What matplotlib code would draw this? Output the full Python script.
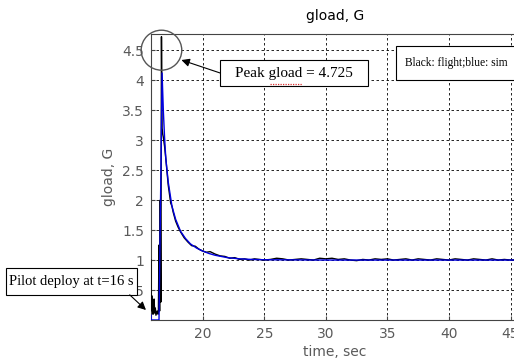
import matplotlib
matplotlib.use("Agg")
import matplotlib.pyplot as plt
from matplotlib.patches import Ellipse, Rectangle

# ---- data ----
sim_t = [15.8, 15.81, 16.45, 16.5, 16.6, 16.7, 16.8, 16.9, 17.0, 17.2, 17.5, 17.8,
         18.2, 18.6, 19.0, 19.5, 20.0, 20.5, 21.0, 21.5, 22.0, 22.5, 23.0, 24.0,
         25.0, 30.0, 35.0, 40.0, 45.7]
sim_g = [0.08, 0.0, 0.0, 0.8, 2.4, 4.12, 3.5, 3.05, 2.7, 2.3, 1.9, 1.68,
         1.48, 1.36, 1.27, 1.2, 1.15, 1.11, 1.08, 1.06, 1.04, 1.03, 1.02, 1.01,
         1.005, 1.0, 1.0, 1.0, 1.0]

flight_t = [15.8, 15.81, 15.9, 15.93, 15.98, 16.0, 16.05, 16.1, 16.15, 16.2, 16.3,
            16.35, 16.4, 16.45, 16.5, 16.55, 16.6, 16.65, 16.7, 16.75, 16.8, 16.9,
            17.0, 17.2, 17.4, 17.5, 17.6, 17.8, 18.0, 18.2, 18.5, 18.8, 19.1, 19.4,
            19.7, 20.0, 20.3, 20.6, 21.0, 21.4, 21.8, 22.2, 22.6, 23.0, 23.4, 23.8,
            24.2, 24.6, 25.0, 25.5, 26.0, 26.5, 27.0, 27.5, 28.0, 28.5, 29.0, 29.5,
            30.0, 30.5, 31.0, 31.5, 32.0, 32.5, 33.0, 33.5, 34.0, 34.5, 35.0, 35.5,
            36.0, 36.5, 37.0, 37.5, 38.0, 38.5, 39.0, 39.5, 40.0, 40.5, 41.0, 41.5,
            42.0, 42.5, 43.0, 43.5, 44.0, 44.5, 45.0, 45.7]
flight_g = [1.0, 0.15, 0.4, 0.1, 0.3, 0.1, 0.35, 0.12, 0.2, 0.08, 0.15,
            0.1, 0.1, 1.25, 0.15, 2.0, 0.3, 4.725, 3.2, 3.1, 3.05, 2.9,
            2.7, 2.25, 1.95, 1.9, 1.8, 1.65, 1.55, 1.47, 1.37, 1.3, 1.24, 1.23,
            1.18, 1.15, 1.13, 1.14, 1.1, 1.07, 1.06, 1.03, 1.04, 1.01, 1.02, 1.0,
            1.02, 1.01, 1.0, 1.01, 1.03, 1.02, 1.0, 1.01, 1.02, 1.01, 1.0, 1.03,
            1.02, 1.03, 1.01, 1.02, 1.0, 0.99, 1.01, 1.0, 1.02, 1.01, 1.02, 1.0,
            1.01, 1.02, 1.0, 1.02, 1.01, 1.0, 1.02, 1.01, 1.0, 1.02, 1.01, 1.0,
            1.02, 1.01, 1.0, 1.02, 1.0, 1.01, 1.0, 1.01]

x_ticks = [20, 25, 30, 35, 40, 45]
y_ticks = [0.5, 1, 1.5, 2, 2.5, 3, 3.5, 4, 4.5]
peak_value = 4.725

fig = plt.figure(figsize=(5.14, 3.62), dpi=100)
ax = fig.add_axes([151 / 514, 42 / 362, 1 - 151 / 514 + 0.01, 286 / 362])

ax.plot(flight_t, flight_g, color="black", lw=1.0, zorder=3)
ax.plot(sim_t, sim_g, color="#0000e0", lw=1.0, zorder=4)

ax.set_xlim(15.8, 45.7)
ax.set_ylim(0, 4.77)
ax.set_xticks(x_ticks)
ax.set_yticks(y_ticks)
ax.set_yticklabels([f"{v:g}" for v in y_ticks])

sans = "DejaVu Sans"
tick_col = "#5a5a5a"
ax.tick_params(direction="in", length=3, colors="#444444", labelcolor=tick_col,
               labelsize=10, pad=5)
for lab in ax.get_xticklabels() + ax.get_yticklabels():
    lab.set_family(sans)

ax.grid(True, color="black", linestyle=(0, (3, 3)), lw=0.6)
for side in ["top", "left", "bottom"]:
    ax.spines[side].set_color("#444444")
    ax.spines[side].set_linewidth(0.8)
ax.spines["right"].set_visible(False)

ax.set_title("gload, G", fontsize=10, family=sans, pad=10)
ax.set_xlabel("time, sec", fontsize=10, family=sans, color=tick_col, labelpad=3)
ax.set_ylabel("gload, G", fontsize=10, family=sans, color=tick_col, labelpad=4)

# circle around the peak
circ = Ellipse((16.65, 4.5), width=40 / 12.13, height=40 / 60, fill=False,
               edgecolor="#555555", lw=1.0, clip_on=False, zorder=6)
ax.add_patch(circ)

serif = "Liberation Serif"


def text_box(x0, x1, y0, y1, label, size):
    r = Rectangle((x0, y0), x1 - x0, y1 - y0, fc="white", ec="black", lw=0.8,
                  clip_on=False, zorder=7)
    ax.add_patch(r)
    ax.text((x0 + x1) / 2, (y0 + y1) / 2, label, ha="center", va="center",
            fontsize=size, family=serif, zorder=8, clip_on=False)


arrow = dict(arrowstyle="-|>", color="black", lw=0.8, mutation_scale=12,
             shrinkA=0, shrinkB=0)

# peak annotation
text_box(21.41, 33.44, 3.903, 4.336, f"Peak gload = {peak_value}", 11)
ax.plot([25.45, 28.05], [3.93, 3.93], color="#e03030", lw=0.9,
        linestyle=(0, (1, 1)), zorder=9, clip_on=False)
ax.annotate("", xy=(18.27, 4.336), xytext=(21.41, 4.12), arrowprops=arrow,
            zorder=7)

# legend-like box
text_box(35.67, 45.56, 4.0, 4.57, "Black: flight;blue: sim", 8.3)

# pilot deploy annotation
text_box(4.01, 14.65, 0.417, 0.867, "Pilot deploy at t=16 s", 10.5)
ax.annotate("", xy=(15.39, 0.167), xytext=(14.07, 0.42), arrowprops=arrow,
            annotation_clip=False, zorder=7)

fig.savefig("out.png", dpi=100)
